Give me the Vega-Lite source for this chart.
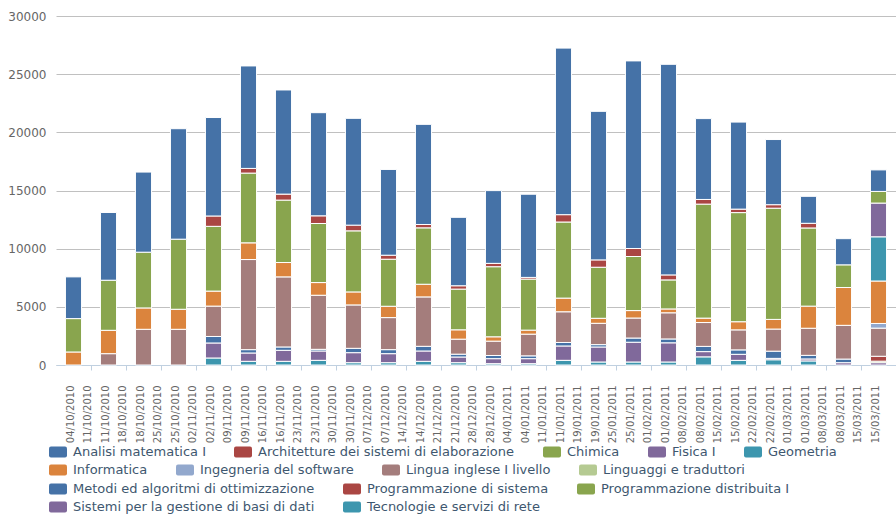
{
  "$schema": "https://vega.github.io/schema/vega-lite/v6.json",
  "width": 840,
  "height": 349,
  "autosize": {"type": "none"},
  "padding": {"left": 56, "top": 16, "right": 0, "bottom": 155},
  "background": "white",
  "config": {
    "view": {"stroke": null},
    "font": "DejaVu Sans",
    "legend": {
      "orient": "none",
      "direction": "horizontal",
      "labelFont": "DejaVu Sans",
      "labelFontSize": 13,
      "labelColor": "#3E576F",
      "labelLimit": 400,
      "labelOffset": 6,
      "symbolType": "M-0.78,-0.61H0.78Q1,-0.61 1,-0.39V0.39Q1,0.61 0.78,0.61H-0.78Q-1,0.61 -1,0.39V-0.39Q-1,-0.61 -0.78,-0.61Z",
      "symbolSize": 324,
      "symbolStrokeWidth": 0,
      "symbolOpacity": 1,
      "columnPadding": 28,
      "padding": 0
    }
  },
  "data": {"values": [
    {"date": "04/10/2010", "course": "Informatica", "value": 1119},
    {"date": "04/10/2010", "course": "Chimica", "value": 2869},
    {"date": "04/10/2010", "course": "Analisi matematica I", "value": 3586},
    {"date": "11/10/2010", "course": "Lingua inglese I livello", "value": 975},
    {"date": "11/10/2010", "course": "Informatica", "value": 2008},
    {"date": "11/10/2010", "course": "Chimica", "value": 4304},
    {"date": "11/10/2010", "course": "Analisi matematica I", "value": 5824},
    {"date": "18/10/2010", "course": "Lingua inglese I livello", "value": 3070},
    {"date": "18/10/2010", "course": "Informatica", "value": 1836},
    {"date": "18/10/2010", "course": "Chimica", "value": 4791},
    {"date": "18/10/2010", "course": "Analisi matematica I", "value": 6886},
    {"date": "25/10/2010", "course": "Lingua inglese I livello", "value": 3070},
    {"date": "25/10/2010", "course": "Informatica", "value": 1721},
    {"date": "25/10/2010", "course": "Chimica", "value": 6025},
    {"date": "25/10/2010", "course": "Analisi matematica I", "value": 9496},
    {"date": "02/11/2010", "course": "Tecnologie e servizi di rete", "value": 602},
    {"date": "02/11/2010", "course": "Sistemi per la gestione di basi di dati", "value": 1291},
    {"date": "02/11/2010", "course": "Metodi ed algoritmi di ottimizzazione", "value": 559},
    {"date": "02/11/2010", "course": "Lingua inglese I livello", "value": 2611},
    {"date": "02/11/2010", "course": "Informatica", "value": 1291},
    {"date": "02/11/2010", "course": "Chimica", "value": 5566},
    {"date": "02/11/2010", "course": "Architetture dei sistemi di elaborazione", "value": 889},
    {"date": "02/11/2010", "course": "Analisi matematica I", "value": 8464},
    {"date": "09/11/2010", "course": "Tecnologie e servizi di rete", "value": 316},
    {"date": "09/11/2010", "course": "Sistemi per la gestione di basi di dati", "value": 717},
    {"date": "09/11/2010", "course": "Metodi ed algoritmi di ottimizzazione", "value": 287},
    {"date": "09/11/2010", "course": "Lingua inglese I livello", "value": 7746},
    {"date": "09/11/2010", "course": "Informatica", "value": 1435},
    {"date": "09/11/2010", "course": "Chimica", "value": 5996},
    {"date": "09/11/2010", "course": "Architetture dei sistemi di elaborazione", "value": 402},
    {"date": "09/11/2010", "course": "Analisi matematica I", "value": 8808},
    {"date": "16/11/2010", "course": "Tecnologie e servizi di rete", "value": 316},
    {"date": "16/11/2010", "course": "Sistemi per la gestione di basi di dati", "value": 947},
    {"date": "16/11/2010", "course": "Metodi ed algoritmi di ottimizzazione", "value": 287},
    {"date": "16/11/2010", "course": "Lingua inglese I livello", "value": 6025},
    {"date": "16/11/2010", "course": "Informatica", "value": 1234},
    {"date": "16/11/2010", "course": "Chimica", "value": 5365},
    {"date": "16/11/2010", "course": "Architetture dei sistemi di elaborazione", "value": 516},
    {"date": "16/11/2010", "course": "Analisi matematica I", "value": 8951},
    {"date": "23/11/2010", "course": "Tecnologie e servizi di rete", "value": 402},
    {"date": "23/11/2010", "course": "Sistemi per la gestione di basi di dati", "value": 803},
    {"date": "23/11/2010", "course": "Metodi ed algoritmi di ottimizzazione", "value": 143},
    {"date": "23/11/2010", "course": "Lingua inglese I livello", "value": 4648},
    {"date": "23/11/2010", "course": "Informatica", "value": 1090},
    {"date": "23/11/2010", "course": "Chimica", "value": 5078},
    {"date": "23/11/2010", "course": "Architetture dei sistemi di elaborazione", "value": 660},
    {"date": "23/11/2010", "course": "Analisi matematica I", "value": 8865},
    {"date": "30/11/2010", "course": "Tecnologie e servizi di rete", "value": 200},
    {"date": "30/11/2010", "course": "Sistemi per la gestione di basi di dati", "value": 861},
    {"date": "30/11/2010", "course": "Metodi ed algoritmi di ottimizzazione", "value": 373},
    {"date": "30/11/2010", "course": "Lingua inglese I livello", "value": 3730},
    {"date": "30/11/2010", "course": "Informatica", "value": 1119},
    {"date": "30/11/2010", "course": "Chimica", "value": 5250},
    {"date": "30/11/2010", "course": "Architetture dei sistemi di elaborazione", "value": 488},
    {"date": "30/11/2010", "course": "Analisi matematica I", "value": 9181},
    {"date": "07/12/2010", "course": "Tecnologie e servizi di rete", "value": 200},
    {"date": "07/12/2010", "course": "Sistemi per la gestione di basi di dati", "value": 775},
    {"date": "07/12/2010", "course": "Metodi ed algoritmi di ottimizzazione", "value": 345},
    {"date": "07/12/2010", "course": "Lingua inglese I livello", "value": 2754},
    {"date": "07/12/2010", "course": "Informatica", "value": 975},
    {"date": "07/12/2010", "course": "Chimica", "value": 4045},
    {"date": "07/12/2010", "course": "Architetture dei sistemi di elaborazione", "value": 344},
    {"date": "07/12/2010", "course": "Analisi matematica I", "value": 7373},
    {"date": "14/12/2010", "course": "Tecnologie e servizi di rete", "value": 316},
    {"date": "14/12/2010", "course": "Sistemi per la gestione di basi di dati", "value": 889},
    {"date": "14/12/2010", "course": "Metodi ed algoritmi di ottimizzazione", "value": 401},
    {"date": "14/12/2010", "course": "Lingua inglese I livello", "value": 4246},
    {"date": "14/12/2010", "course": "Informatica", "value": 1090},
    {"date": "14/12/2010", "course": "Chimica", "value": 4849},
    {"date": "14/12/2010", "course": "Architetture dei sistemi di elaborazione", "value": 287},
    {"date": "14/12/2010", "course": "Analisi matematica I", "value": 8607},
    {"date": "21/12/2010", "course": "Tecnologie e servizi di rete", "value": 200},
    {"date": "21/12/2010", "course": "Sistemi per la gestione di basi di dati", "value": 488},
    {"date": "21/12/2010", "course": "Metodi ed algoritmi di ottimizzazione", "value": 243},
    {"date": "21/12/2010", "course": "Lingua inglese I livello", "value": 1291},
    {"date": "21/12/2010", "course": "Informatica", "value": 803},
    {"date": "21/12/2010", "course": "Chimica", "value": 3500},
    {"date": "21/12/2010", "course": "Architetture dei sistemi di elaborazione", "value": 287},
    {"date": "21/12/2010", "course": "Analisi matematica I", "value": 5881},
    {"date": "28/12/2010", "course": "Tecnologie e servizi di rete", "value": 115},
    {"date": "28/12/2010", "course": "Sistemi per la gestione di basi di dati", "value": 430},
    {"date": "28/12/2010", "course": "Metodi ed algoritmi di ottimizzazione", "value": 272},
    {"date": "28/12/2010", "course": "Lingua inglese I livello", "value": 1234},
    {"date": "28/12/2010", "course": "Informatica", "value": 373},
    {"date": "28/12/2010", "course": "Chimica", "value": 6025},
    {"date": "28/12/2010", "course": "Architetture dei sistemi di elaborazione", "value": 287},
    {"date": "28/12/2010", "course": "Analisi matematica I", "value": 6254},
    {"date": "04/01/2011", "course": "Tecnologie e servizi di rete", "value": 115},
    {"date": "04/01/2011", "course": "Sistemi per la gestione di basi di dati", "value": 430},
    {"date": "04/01/2011", "course": "Metodi ed algoritmi di ottimizzazione", "value": 243},
    {"date": "04/01/2011", "course": "Lingua inglese I livello", "value": 1865},
    {"date": "04/01/2011", "course": "Informatica", "value": 344},
    {"date": "04/01/2011", "course": "Chimica", "value": 4390},
    {"date": "04/01/2011", "course": "Architetture dei sistemi di elaborazione", "value": 143},
    {"date": "04/01/2011", "course": "Analisi matematica I", "value": 7150},
    {"date": "11/01/2011", "course": "Tecnologie e servizi di rete", "value": 402},
    {"date": "11/01/2011", "course": "Sistemi per la gestione di basi di dati", "value": 1234},
    {"date": "11/01/2011", "course": "Metodi ed algoritmi di ottimizzazione", "value": 300},
    {"date": "11/01/2011", "course": "Lingua inglese I livello", "value": 2639},
    {"date": "11/01/2011", "course": "Informatica", "value": 1176},
    {"date": "11/01/2011", "course": "Chimica", "value": 6541},
    {"date": "11/01/2011", "course": "Architetture dei sistemi di elaborazione", "value": 631},
    {"date": "11/01/2011", "course": "Analisi matematica I", "value": 14316},
    {"date": "19/01/2011", "course": "Tecnologie e servizi di rete", "value": 258},
    {"date": "19/01/2011", "course": "Sistemi per la gestione di basi di dati", "value": 1291},
    {"date": "19/01/2011", "course": "Metodi ed algoritmi di ottimizzazione", "value": 200},
    {"date": "19/01/2011", "course": "Lingua inglese I livello", "value": 1836},
    {"date": "19/01/2011", "course": "Informatica", "value": 430},
    {"date": "19/01/2011", "course": "Chimica", "value": 4390},
    {"date": "19/01/2011", "course": "Architetture dei sistemi di elaborazione", "value": 631},
    {"date": "19/01/2011", "course": "Analisi matematica I", "value": 12767},
    {"date": "25/01/2011", "course": "Tecnologie e servizi di rete", "value": 258},
    {"date": "25/01/2011", "course": "Sistemi per la gestione di basi di dati", "value": 1700},
    {"date": "25/01/2011", "course": "Metodi ed algoritmi di ottimizzazione", "value": 360},
    {"date": "25/01/2011", "course": "Lingua inglese I livello", "value": 1720},
    {"date": "25/01/2011", "course": "Informatica", "value": 640},
    {"date": "25/01/2011", "course": "Chimica", "value": 4648},
    {"date": "25/01/2011", "course": "Architetture dei sistemi di elaborazione", "value": 689},
    {"date": "25/01/2011", "course": "Analisi matematica I", "value": 16124},
    {"date": "01/02/2011", "course": "Tecnologie e servizi di rete", "value": 258},
    {"date": "01/02/2011", "course": "Sistemi per la gestione di basi di dati", "value": 1650},
    {"date": "01/02/2011", "course": "Metodi ed algoritmi di ottimizzazione", "value": 330},
    {"date": "01/02/2011", "course": "Lingua inglese I livello", "value": 2250},
    {"date": "01/02/2011", "course": "Informatica", "value": 330},
    {"date": "01/02/2011", "course": "Chimica", "value": 2496},
    {"date": "01/02/2011", "course": "Architetture dei sistemi di elaborazione", "value": 430},
    {"date": "01/02/2011", "course": "Analisi matematica I", "value": 18103},
    {"date": "08/02/2011", "course": "Tecnologie e servizi di rete", "value": 700},
    {"date": "08/02/2011", "course": "Sistemi per la gestione di basi di dati", "value": 450},
    {"date": "08/02/2011", "course": "Metodi ed algoritmi di ottimizzazione", "value": 450},
    {"date": "08/02/2011", "course": "Lingua inglese I livello", "value": 2050},
    {"date": "08/02/2011", "course": "Informatica", "value": 380},
    {"date": "08/02/2011", "course": "Chimica", "value": 9800},
    {"date": "08/02/2011", "course": "Architetture dei sistemi di elaborazione", "value": 400},
    {"date": "08/02/2011", "course": "Analisi matematica I", "value": 6950},
    {"date": "15/02/2011", "course": "Tecnologie e servizi di rete", "value": 400},
    {"date": "15/02/2011", "course": "Sistemi per la gestione di basi di dati", "value": 520},
    {"date": "15/02/2011", "course": "Metodi ed algoritmi di ottimizzazione", "value": 380},
    {"date": "15/02/2011", "course": "Lingua inglese I livello", "value": 1720},
    {"date": "15/02/2011", "course": "Informatica", "value": 700},
    {"date": "15/02/2011", "course": "Chimica", "value": 9380},
    {"date": "15/02/2011", "course": "Architetture dei sistemi di elaborazione", "value": 300},
    {"date": "15/02/2011", "course": "Analisi matematica I", "value": 7480},
    {"date": "22/02/2011", "course": "Tecnologie e servizi di rete", "value": 450},
    {"date": "22/02/2011", "course": "Sistemi per la gestione di basi di dati", "value": 120},
    {"date": "22/02/2011", "course": "Metodi ed algoritmi di ottimizzazione", "value": 620},
    {"date": "22/02/2011", "course": "Lingua inglese I livello", "value": 1900},
    {"date": "22/02/2011", "course": "Informatica", "value": 830},
    {"date": "22/02/2011", "course": "Chimica", "value": 9560},
    {"date": "22/02/2011", "course": "Architetture dei sistemi di elaborazione", "value": 300},
    {"date": "22/02/2011", "course": "Analisi matematica I", "value": 5600},
    {"date": "01/03/2011", "course": "Tecnologie e servizi di rete", "value": 350},
    {"date": "01/03/2011", "course": "Sistemi per la gestione di basi di dati", "value": 170},
    {"date": "01/03/2011", "course": "Metodi ed algoritmi di ottimizzazione", "value": 310},
    {"date": "01/03/2011", "course": "Lingua inglese I livello", "value": 2330},
    {"date": "01/03/2011", "course": "Informatica", "value": 1900},
    {"date": "01/03/2011", "course": "Chimica", "value": 6720},
    {"date": "01/03/2011", "course": "Architetture dei sistemi di elaborazione", "value": 400},
    {"date": "01/03/2011", "course": "Analisi matematica I", "value": 2320},
    {"date": "08/03/2011", "course": "Sistemi per la gestione di basi di dati", "value": 200},
    {"date": "08/03/2011", "course": "Metodi ed algoritmi di ottimizzazione", "value": 310},
    {"date": "08/03/2011", "course": "Lingua inglese I livello", "value": 2900},
    {"date": "08/03/2011", "course": "Informatica", "value": 3250},
    {"date": "08/03/2011", "course": "Chimica", "value": 1950},
    {"date": "08/03/2011", "course": "Analisi matematica I", "value": 2250},
    {"date": "15/03/2011", "course": "Sistemi per la gestione di basi di dati", "value": 200},
    {"date": "15/03/2011", "course": "Programmazione distribuita I", "value": 130},
    {"date": "15/03/2011", "course": "Programmazione di sistema", "value": 420},
    {"date": "15/03/2011", "course": "Lingua inglese I livello", "value": 2420},
    {"date": "15/03/2011", "course": "Ingegneria del software", "value": 400},
    {"date": "15/03/2011", "course": "Informatica", "value": 3650},
    {"date": "15/03/2011", "course": "Geometria", "value": 3800},
    {"date": "15/03/2011", "course": "Fisica I", "value": 2900},
    {"date": "15/03/2011", "course": "Chimica", "value": 1000},
    {"date": "15/03/2011", "course": "Analisi matematica I", "value": 1850}
  ]},
  "encoding": {
    "x": {
      "field": "date",
      "type": "nominal",
      "scale": {
        "domain": ["04/10/2010","11/10/2010 ","11/10/2010","18/10/2010 ","18/10/2010","25/10/2010 ","25/10/2010","02/11/2010 ","02/11/2010","09/11/2010 ","09/11/2010","16/11/2010 ","16/11/2010","23/11/2010 ","23/11/2010","30/11/2010 ","30/11/2010","07/12/2010 ","07/12/2010","14/12/2010 ","14/12/2010","21/12/2010 ","21/12/2010","28/12/2010 ","28/12/2010","04/01/2011 ","04/01/2011","11/01/2011 ","11/01/2011","19/01/2011 ","19/01/2011","25/01/2011 ","25/01/2011","01/02/2011 ","01/02/2011","08/02/2011 ","08/02/2011","15/02/2011 ","15/02/2011","22/02/2011 ","22/02/2011","01/03/2011 ","01/03/2011","08/03/2011 ","08/03/2011","15/03/2011 ","15/03/2011"],
        "paddingInner": 0,
        "paddingOuter": 0.5
      },
      "axis": {
        "title": null,
        "labelAngle": -90,
        "labelAlign": "right",
        "labelBaseline": "alphabetic",
        "labelExpr": "trim(datum.label)",
        "labelFont": "DejaVu Sans",
        "labelFontSize": 10,
        "labelColor": "#666666",
        "labelPadding": 15,
        "labelOverlap": false,
        "domainColor": "#C0D0E0",
        "tickSize": 5,
        "tickColor": {"condition": {"test": "length(datum.value) > 10", "value": "#C0D0E0"}, "value": "rgba(0,0,0,0)"}
      }
    },
    "y": {
      "field": "value",
      "type": "quantitative",
      "stack": "zero",
      "scale": {"domain": [0, 30000], "nice": false},
      "axis": {
        "title": null,
        "values": [0, 5000, 10000, 15000, 20000, 25000, 30000],
        "format": "d",
        "domain": false,
        "ticks": false,
        "labelPadding": 10,
        "labelFont": "DejaVu Sans",
        "labelFontSize": 12,
        "labelColor": "#666666",
        "gridColor": "#C0C0C0",
        "gridWidth": 1
      }
    },
    "order": {"field": "course", "sort": "descending"}
  },
  "layer": [
    {
      "mark": {"type": "bar", "stroke": "white", "strokeWidth": 1, "width": {"band": 0.92}},
      "encoding": {
        "color": {
          "field": "course",
          "type": "nominal",
          "scale": {
            "domain": ["Analisi matematica I", "Architetture dei sistemi di elaborazione", "Chimica", "Fisica I", "Geometria", "Informatica", "Ingegneria del software", "Lingua inglese I livello", "Linguaggi e traduttori", "Metodi ed algoritmi di ottimizzazione", "Programmazione di sistema", "Programmazione distribuita I", "Sistemi per la gestione di basi di dati", "Tecnologie e servizi di rete"],
            "range": ["#4572A7", "#AA4643", "#89A54E", "#80699B", "#3D96AE", "#DB843D", "#92A8CD", "#A47D7C", "#B5CA92", "#4572A7", "#AA4643", "#89A54E", "#80699B", "#3D96AE"]
          },
          "legend": {
            "title": null,
            "values": ["Analisi matematica I", "Architetture dei sistemi di elaborazione", "Chimica", "Fisica I", "Geometria"],
            "legendX": -7,
            "legendY": 427
          }
        }
      }
    },
    {
      "transform": [{"filter": "false"}],
      "mark": {"type": "bar", "stroke": "white", "strokeWidth": 1, "width": {"band": 0.92}},
      "encoding": {
        "color": {
          "field": "course",
          "type": "nominal",
          "scale": {
            "domain": ["Analisi matematica I", "Architetture dei sistemi di elaborazione", "Chimica", "Fisica I", "Geometria", "Informatica", "Ingegneria del software", "Lingua inglese I livello", "Linguaggi e traduttori", "Metodi ed algoritmi di ottimizzazione", "Programmazione di sistema", "Programmazione distribuita I", "Sistemi per la gestione di basi di dati", "Tecnologie e servizi di rete"],
            "range": ["#4572A7", "#AA4643", "#89A54E", "#80699B", "#3D96AE", "#DB843D", "#92A8CD", "#A47D7C", "#B5CA92", "#4572A7", "#AA4643", "#89A54E", "#80699B", "#3D96AE"]
          },
          "legend": {
            "title": null,
            "values": ["Informatica", "Ingegneria del software", "Lingua inglese I livello", "Linguaggi e traduttori"],
            "legendX": -7,
            "legendY": 445
          }
        }
      }
    },
    {
      "transform": [{"filter": "false"}],
      "mark": {"type": "bar", "stroke": "white", "strokeWidth": 1, "width": {"band": 0.92}},
      "encoding": {
        "color": {
          "field": "course",
          "type": "nominal",
          "scale": {
            "domain": ["Analisi matematica I", "Architetture dei sistemi di elaborazione", "Chimica", "Fisica I", "Geometria", "Informatica", "Ingegneria del software", "Lingua inglese I livello", "Linguaggi e traduttori", "Metodi ed algoritmi di ottimizzazione", "Programmazione di sistema", "Programmazione distribuita I", "Sistemi per la gestione di basi di dati", "Tecnologie e servizi di rete"],
            "range": ["#4572A7", "#AA4643", "#89A54E", "#80699B", "#3D96AE", "#DB843D", "#92A8CD", "#A47D7C", "#B5CA92", "#4572A7", "#AA4643", "#89A54E", "#80699B", "#3D96AE"]
          },
          "legend": {
            "title": null,
            "values": ["Metodi ed algoritmi di ottimizzazione", "Programmazione di sistema", "Programmazione distribuita I"],
            "legendX": -7,
            "legendY": 464
          }
        }
      }
    },
    {
      "transform": [{"filter": "false"}],
      "mark": {"type": "bar", "stroke": "white", "strokeWidth": 1, "width": {"band": 0.92}},
      "encoding": {
        "color": {
          "field": "course",
          "type": "nominal",
          "scale": {
            "domain": ["Analisi matematica I", "Architetture dei sistemi di elaborazione", "Chimica", "Fisica I", "Geometria", "Informatica", "Ingegneria del software", "Lingua inglese I livello", "Linguaggi e traduttori", "Metodi ed algoritmi di ottimizzazione", "Programmazione di sistema", "Programmazione distribuita I", "Sistemi per la gestione di basi di dati", "Tecnologie e servizi di rete"],
            "range": ["#4572A7", "#AA4643", "#89A54E", "#80699B", "#3D96AE", "#DB843D", "#92A8CD", "#A47D7C", "#B5CA92", "#4572A7", "#AA4643", "#89A54E", "#80699B", "#3D96AE"]
          },
          "legend": {
            "title": null,
            "values": ["Sistemi per la gestione di basi di dati", "Tecnologie e servizi di rete"],
            "legendX": -7,
            "legendY": 482
          }
        }
      }
    }
  ],
  "resolve": {"legend": {"color": "independent"}}
}
